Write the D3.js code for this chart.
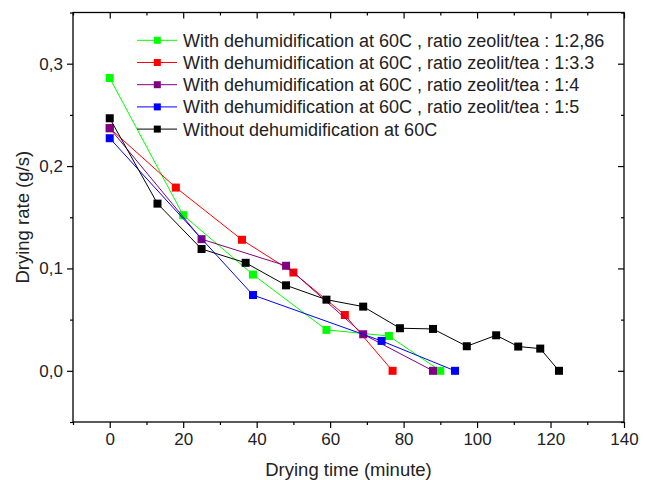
<!DOCTYPE html>
<html><head><meta charset="utf-8">
<script src="https://cdn.jsdelivr.net/npm/d3@7"></script>
<style>body{margin:0;background:#fff}svg{display:block}text{font-family:"Liberation Sans",Arial,sans-serif}</style>
</head><body>
<script>
const seriesNames = [
  "With dehumidification at 60C , ratio zeolit/tea : 1:2,86",
  "With dehumidification at 60C , ratio zeolit/tea : 1:3.3",
  "With dehumidification at 60C , ratio zeolit/tea : 1:4",
  "With dehumidification at 60C , ratio zeolit/tea : 1:5",
  "Without dehumidification at 60C"
];
const seriesColors = ["#00ff00", "#ff0000", "#800080", "#0000ff", "#000000"];
const timeGreen = [0, 20, 39, 59, 76, 90];
const rateGreen = [0.286, 0.152, 0.094, 0.040, 0.034, 0];
const timeRed = [0, 18, 36, 50, 64, 77];
const rateRed = [0.237, 0.179, 0.128, 0.096, 0.0545, 0];
const timePurple = [0, 25, 48, 69, 88];
const ratePurple = [0.237, 0.1286, 0.1026, 0.0357, 0];
const timeBlue = [0, 39, 74, 94];
const rateBlue = [0.2272, 0.074, 0.0292, 0];
const timeBlack = [0, 13, 25, 37, 48, 59, 69, 79, 88, 97.2, 105.2, 111.2, 117.2, 122.3];
const rateBlack = [0.2467, 0.1633, 0.119, 0.1055, 0.0835, 0.0695, 0.0627, 0.0416, 0.0409, 0.024, 0.0347, 0.0237, 0.0217, 0];
const xMajorTicks = [0, 20, 40, 60, 80, 100, 120, 140];
const xMinorTicks = [-10, 10, 30, 50, 70, 90, 110, 130];
const yMajorTicks = [0, 0.1, 0.2, 0.3];
const yMinorTicks = [-0.05, 0.05, 0.15, 0.25, 0.35];
const xTitle = "Drying time (minute)";
const yTitle = "Drying rate (g/s)";

const seriesTimes = [timeGreen, timeRed, timePurple, timeBlue, timeBlack];
const seriesRates = [rateGreen, rateRed, ratePurple, rateBlue, rateBlack];
const series = seriesNames.map((name, i) => ({
  name, color: seriesColors[i],
  pts: seriesTimes[i].map((t, j) => ({t, v: seriesRates[i][j]}))
}));

const W = 646, H = 480;
const L = 73, R = 624, T = 12.5, B = 422;
const svg = d3.select("body").append("svg").attr("width", W).attr("height", H);
const x = d3.scaleLinear().domain([-10, 140]).range([L, R]);
const y = d3.scaleLinear().domain([-0.05, 0.35]).range([B, T]);
const fmtY = v => d3.format(".1f")(v).replace(".", ",");

svg.append("rect").attr("x", L).attr("y", T).attr("width", R - L).attr("height", B - T)
  .attr("fill", "none").attr("stroke", "#000").attr("stroke-width", 1.3);

function styleAxis(g) {
  g.select(".domain").remove();
  g.selectAll("line").attr("stroke", "#000").attr("stroke-width", 1.2);
  g.selectAll("text").attr("font-size", 17).attr("fill", "#222");
}
svg.append("g").attr("transform", `translate(0,${B})`)
  .call(d3.axisBottom(x).tickValues(xMajorTicks).tickSize(6).tickPadding(5).tickFormat(d3.format("d"))).call(styleAxis);
svg.append("g").attr("transform", `translate(0,${B})`)
  .call(d3.axisBottom(x).tickValues(xMinorTicks).tickSize(3).tickFormat("")).call(styleAxis);
svg.append("g").attr("transform", `translate(0,${T})`)
  .call(d3.axisBottom(x).tickValues(xMajorTicks).tickSize(6).tickFormat("")).call(styleAxis);
svg.append("g").attr("transform", `translate(0,${T})`)
  .call(d3.axisBottom(x).tickValues(xMinorTicks).tickSize(3).tickFormat("")).call(styleAxis);
svg.append("g").attr("transform", `translate(${L},0)`)
  .call(d3.axisLeft(y).tickValues(yMajorTicks).tickSize(6).tickPadding(4).tickFormat(fmtY)).call(styleAxis);
svg.append("g").attr("transform", `translate(${L},0)`)
  .call(d3.axisLeft(y).tickValues(yMinorTicks).tickSize(3).tickFormat("")).call(styleAxis);
svg.append("g").attr("transform", `translate(${R},0)`)
  .call(d3.axisLeft(y).tickValues(yMajorTicks).tickSize(6).tickFormat("")).call(styleAxis);
svg.append("g").attr("transform", `translate(${R},0)`)
  .call(d3.axisLeft(y).tickValues(yMinorTicks).tickSize(3).tickFormat("")).call(styleAxis);

svg.append("text").attr("x", (L + R) / 2).attr("y", 476).attr("text-anchor", "middle")
  .attr("font-size", 18.5).attr("fill", "#222").text(xTitle);
svg.append("text").attr("transform", `translate(29,${(T + B) / 2}) rotate(-90)`).attr("text-anchor", "middle")
  .attr("font-size", 18.5).attr("fill", "#222").text(yTitle);

const line = d3.line().x(d => x(d.t)).y(d => y(d.v));
const MS = 8;
series.forEach(s => {
  const g = svg.append("g");
  g.append("path").attr("d", line(s.pts)).attr("fill", "none").attr("stroke", s.color).attr("stroke-width", 1);
  g.selectAll("rect").data(s.pts).join("rect")
    .attr("x", d => x(d.t) - MS / 2).attr("y", d => y(d.v) - MS / 2)
    .attr("width", MS).attr("height", MS).attr("fill", s.color);
});

const legY0 = 40.3, legDY = 22.2;
series.forEach((s, i) => {
  const yy = legY0 + i * legDY;
  svg.append("line").attr("x1", 137).attr("x2", 177).attr("y1", yy).attr("y2", yy)
    .attr("stroke", s.color).attr("stroke-width", 1);
  svg.append("rect").attr("x", 157.3 - 3.5).attr("y", yy - 3.5).attr("width", 7).attr("height", 7).attr("fill", s.color);
  svg.append("text").attr("x", 183).attr("y", yy + 6.5).attr("font-size", 18).attr("fill", "#222").text(s.name);
});
</script>
</body></html>
